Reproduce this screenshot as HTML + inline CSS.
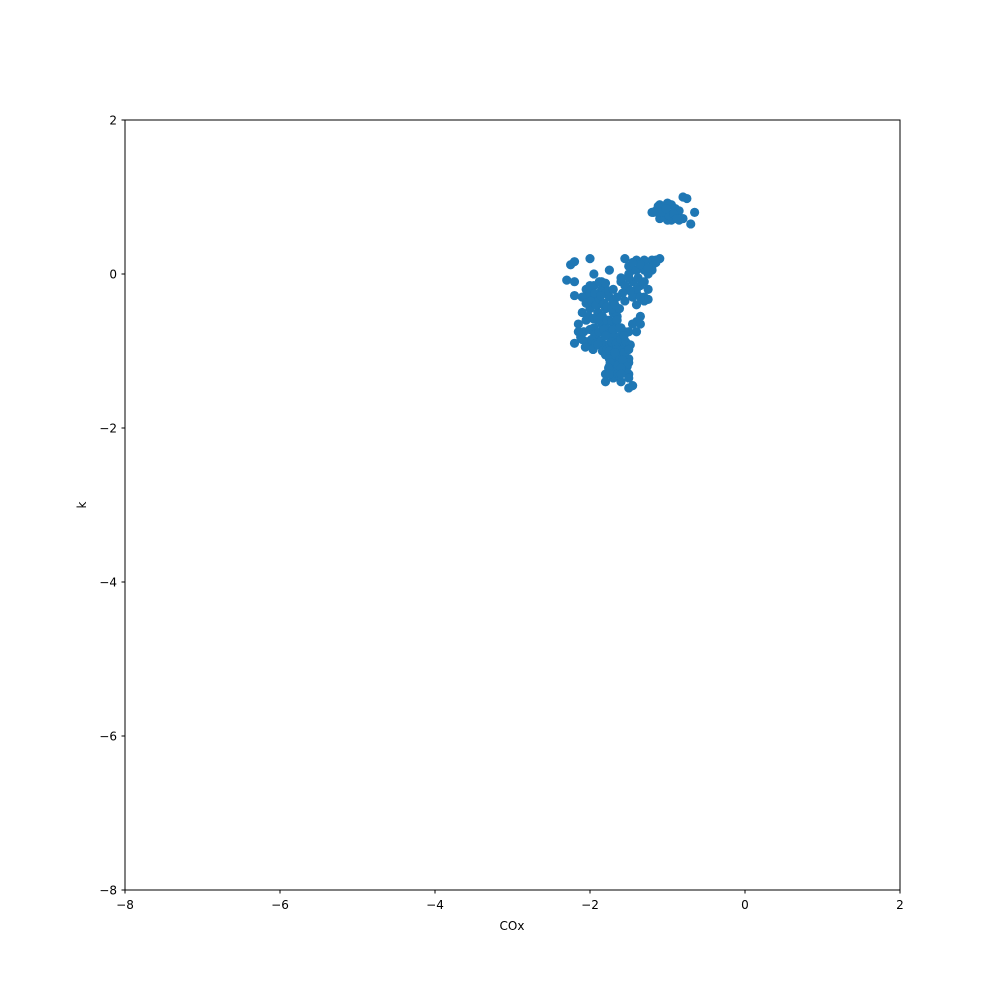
<!DOCTYPE html>
<html><head><meta charset="utf-8"><style>
body{margin:0;background:#fff;font-family:"Liberation Sans","DejaVu Sans",sans-serif}
svg text{font-family:"DejaVu Sans","Liberation Sans",sans-serif;font-size:12px;fill:#000}
</style></head><body>
<svg id="chart" width="1000" height="1000">
<rect x="0" y="0" width="1000" height="1000" fill="#fff"/>
<g id="points"></g>
<rect x="125" y="120" width="775" height="770" fill="none" stroke="#000" stroke-width="1"/>
<g id="axes"></g>
<text x="512" y="930" text-anchor="middle">COx</text>
<text x="86" y="505" text-anchor="middle" transform="rotate(-90 86 505)">k</text>
</svg>
<script>
const xTicks=[-8,-6,-4,-2,0,2];
const yTicks=[-8,-6,-4,-2,0,2];
const xs=[-1.15,-1.1,-1.05,-1.0,-0.95,-0.9,-1.1,-1.0,-0.85,-0.8,-0.75,-0.7,-0.65,-1.2,-0.95,-1.05,-0.9,-0.8,-1.0,-0.85,-1.12,-0.98,-1.08,-0.92,-1.18,-0.88,-1.02,
-2.25,-2.2,-2.0,-1.55,-1.4,-1.3,-1.2,-1.1,-1.15,-1.35,-1.5,-1.45,-1.2,-1.25,-1.95,-1.75,-2.3,-2.2,-2.2,-2.05,-1.6,-1.5,-1.4,-1.3,-1.25,-1.45,-1.55,
-1.5,-1.4,-1.3,-1.45,-1.35,-1.3,-1.4,-1.2,-1.3,-1.6,-1.55,-1.25,-1.35,-1.45,-1.5,-1.25,-1.15,-1.38,-1.48,-1.58,
-2.1,-2.05,-2.0,-1.95,-1.9,-1.85,-1.8,-1.75,-1.7,-1.65,-2.1,-2.0,-1.9,-1.8,-1.7,-2.15,-2.05,-1.95,-1.85,-1.75,-1.65,-2.2,-2.1,-2.0,-1.9,-1.8,-1.7,-1.6,
-1.9,-1.85,-1.8,-1.95,-1.75,-1.7,-1.85,-1.9,
-2.05,-1.98,-1.92,-1.88,-1.82,-1.78,-1.72,-1.68,-2.02,-1.96,-1.9,-1.84,-1.78,-1.72,-1.66,-2.08,-2.0,-1.94,-1.88,-1.82,-1.76,-1.7,-2.12,-2.04,-1.98,-1.92,-1.86,-1.8,-1.74,-2.06,-1.96,-1.9,-1.84,-1.78,-2.15,-2.0,-1.88,-1.8,-1.94,-1.86,-1.76,-1.62,
-1.8,-1.75,-1.7,-1.65,-1.6,-1.55,-1.5,-1.75,-1.7,-1.65,-1.6,-1.55,-1.5,-1.8,-1.7,-1.6,-1.5,-1.75,-1.65,-1.55,-1.8,-1.7,-1.6,-1.65,-1.5,-1.45,-1.4,-1.35,-1.4,-1.45,-1.55,-1.35,
-1.72,-1.66,-1.6,-1.54,-1.48,-1.68,-1.62,-1.56,-1.5,-1.74,-1.64,-1.58,-1.52,-1.7,-1.62,-1.55,-1.66,-1.58,-1.52,-1.76,-1.68,-1.6,-1.5,-1.62,-1.56,
-1.8,-1.75,-1.6,-1.5,-1.45,-1.7,-1.3,-1.4,-1.35];
const ys=[0.82,0.9,0.85,0.8,0.9,0.75,0.72,0.7,0.7,1.0,0.98,0.65,0.8,0.8,0.7,0.78,0.85,0.72,0.92,0.82,0.88,0.76,0.8,0.78,0.8,0.72,0.85,
0.12,0.16,0.2,0.2,0.18,0.18,0.18,0.2,0.15,0.1,0.0,0.05,0.05,0.0,0.0,0.05,-0.08,-0.1,-0.28,-0.3,-0.1,-0.2,-0.25,-0.3,-0.33,-0.3,-0.35,
0.1,0.05,0.05,-0.1,-0.15,-0.1,-0.2,0.1,0.15,-0.05,-0.15,-0.2,0.12,0.15,-0.05,0.08,0.18,-0.05,-0.22,-0.25,
-0.3,-0.2,-0.25,-0.15,-0.3,-0.2,-0.25,-0.3,-0.35,-0.3,-0.5,-0.45,-0.5,-0.45,-0.5,-0.65,-0.6,-0.7,-0.65,-0.6,-0.55,-0.9,-0.85,-0.9,-0.85,-0.8,-0.75,-0.7,
-0.4,-0.55,-0.7,-0.95,-0.95,-0.85,-0.1,-0.35,
-0.38,-0.35,-0.4,-0.32,-0.38,-0.42,-0.45,-0.4,-0.55,-0.58,-0.6,-0.55,-0.6,-0.62,-0.6,-0.75,-0.72,-0.78,-0.75,-0.72,-0.78,-0.82,-0.82,-0.88,-0.85,-0.9,-0.88,-0.92,-0.9,-0.95,-0.98,-0.92,-1.0,-0.98,-0.75,-0.15,-0.1,-0.12,-0.25,-0.28,-0.22,-0.45,
-1.05,-1.0,-1.1,-1.0,-0.95,-1.05,-1.1,-1.2,-1.25,-1.15,-1.25,-1.2,-1.15,-1.3,-1.35,-1.4,-1.3,-1.1,-1.3,-0.9,-0.8,-0.7,-0.8,-0.6,-0.75,-0.65,-0.62,-0.55,-0.75,-0.65,-0.9,-0.65,
-0.88,-0.9,-0.85,-0.88,-0.92,-1.05,-1.08,-1.02,-0.98,-1.15,-1.18,-1.12,-1.2,-0.72,-0.7,-0.75,-0.98,-1.25,-1.28,-1.22,-1.02,-1.22,-1.35,-1.32,-0.8,
-1.4,-1.3,-1.3,-1.48,-1.45,-0.2,-0.35,-0.4,-0.3];
const X=v=>125+(v+8)*77.5, Y=v=>120+(2-v)*77;
const NS='http://www.w3.org/2000/svg';
const pg=document.getElementById('points');
for(let i=0;i<xs.length;i++){
 const c=document.createElementNS(NS,'circle');
 c.setAttribute('cx',X(xs[i]));c.setAttribute('cy',Y(ys[i]));c.setAttribute('r',4.6);c.setAttribute('fill','#1f77b4');
 
 
 pg.appendChild(c);
}
const ax=document.getElementById('axes');
const fmt=v=>v<0?'\u2212'+(-v):String(v);
xTicks.forEach(t=>{
 const l=document.createElementNS(NS,'line');
 l.setAttribute('x1',X(t));l.setAttribute('x2',X(t));l.setAttribute('y1',890);l.setAttribute('y2',893.5);l.setAttribute('stroke','#000');
 
 
 ax.appendChild(l);
 const tx=document.createElementNS(NS,'text');
 tx.setAttribute('x',X(t));tx.setAttribute('y',909);tx.setAttribute('text-anchor','middle');tx.textContent=fmt(t);
 
 
 ax.appendChild(tx);
});
yTicks.forEach(t=>{
 const l=document.createElementNS(NS,'line');
 l.setAttribute('x1',121.5);l.setAttribute('x2',125);l.setAttribute('y1',Y(t));l.setAttribute('y2',Y(t));l.setAttribute('stroke','#000');
 
 
 ax.appendChild(l);
 const tx=document.createElementNS(NS,'text');
 tx.setAttribute('x',117);tx.setAttribute('y',Y(t)+4.5);tx.setAttribute('text-anchor','end');tx.textContent=fmt(t);
 
 
 ax.appendChild(tx);
});
</script>
</body></html>
